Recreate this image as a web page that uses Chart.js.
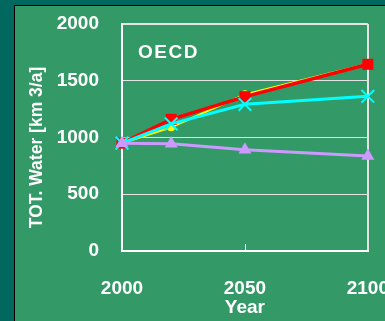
<!DOCTYPE html>
<html>
<head>
<meta charset="utf-8">
<script src="https://cdn.jsdelivr.net/npm/chart.js@4.4.1/dist/chart.umd.min.js"></script>
<style>
    html, body { margin: 0; padding: 0; width: 385px; height: 321px; overflow: hidden; background: #00685f; }
    .panel { position: absolute; left: 14px; top: 5px; width: 420px; height: 330px; background: #339966; border-left: 1px solid #000; border-top: 1px solid #000; }
    canvas { position: absolute; left: 0; top: 0; }
</style>
</head>
<body>
<div class="panel"><canvas id="waterChart" width="400" height="315"></canvas></div>
<script>
// values
const years = [2000, 2020, 2050, 2100];
const redSeries = [950, 1160, 1360, 1645];
const yellowSeries = [950, 1090, 1380, 1650];
const cyanSeries = [950, 1120, 1292, 1363];
const purpleSeries = [950, 944, 893, 837];
const xTicks = [2000, 2050, 2100];
const yTicks = [0, 500, 1000, 1500, 2000];

const FONT = "Arial, 'Liberation Sans', sans-serif";
const GRID = '#e4e4e4';

function toPoints(values) {
    return years.map((x, i) => ({ x: x, y: values[i] }));
}

// OECD label, y title and the small tick at 2050
const extras = {
    id: 'extras',
    beforeDatasetsDraw(chart) {
        const ctx = chart.ctx;
        const xs = chart.scales.x;
        const area = chart.chartArea;
        const x = Math.round(xs.getPixelForValue(xTicks[1])) + 0.5;
        ctx.save();
        ctx.strokeStyle = '#ffffff';
        ctx.lineWidth = 1;
        ctx.beginPath();
        ctx.moveTo(x, area.bottom);
        ctx.lineTo(x, area.bottom - 7);
        ctx.stroke();
        ctx.restore();
    },
    afterDraw(chart) {
        const ctx = chart.ctx;
        const area = chart.chartArea;
        ctx.save();
        ctx.fillStyle = '#ffffff';
        ctx.font = 'bold 19px ' + FONT;
        ctx.letterSpacing = '1.5px';
        ctx.textBaseline = 'alphabetic';
        ctx.textAlign = 'left';
        ctx.fillText('OECD', area.left + 16, area.top + 34);
        ctx.letterSpacing = '0px';

        ctx.font = 'bold 17.5px ' + FONT;
        ctx.textAlign = 'center';
        ctx.textBaseline = 'middle';
        ctx.translate(22, (area.top + area.bottom) / 2 + 10);
        ctx.rotate(-Math.PI / 2);
        ctx.fillText('TOT. Water [km 3/a]', 0, 0);
        ctx.restore();
    }
};

new Chart(document.getElementById('waterChart'), {
    type: 'line',
    data: {
        datasets: [
            {
                data: toPoints(purpleSeries),
                borderColor: '#cc99ff',
                backgroundColor: '#cc99ff',
                borderWidth: 3,
                pointStyle: 'triangle',
                pointRadius: 7.5,
                pointBorderWidth: 0,
                order: 0
            },
            {
                data: toPoints(cyanSeries),
                borderColor: '#00ffff',
                backgroundColor: '#00ffff',
                borderWidth: 3,
                pointStyle: 'crossRot',
                pointRadius: 9,
                pointBorderWidth: 2,
                order: 1
            },
            {
                data: toPoints(redSeries),
                borderColor: '#ff0000',
                backgroundColor: '#ff0000',
                borderWidth: 3.5,
                pointStyle: 'rect',
                pointRadius: 7.8,
                pointBorderWidth: 0,
                order: 2
            },
            {
                data: toPoints(yellowSeries),
                borderColor: '#ffff00',
                backgroundColor: '#ffff00',
                borderWidth: 2,
                pointStyle: 'circle',
                pointRadius: 4,
                pointBorderWidth: 0,
                order: 3
            }
        ]
    },
    options: {
        responsive: false,
        animation: false,
        clip: false,
        layout: { autoPadding: false, padding: { left: 0, top: 18, right: 46, bottom: 0 } },
        plugins: {
            legend: { display: false },
            tooltip: { enabled: false }
        },
        elements: { line: { tension: 0 } },
        scales: {
            x: {
                type: 'linear',
                min: xTicks[0],
                max: xTicks[xTicks.length - 1],
                afterBuildTicks: function(scale) {
                    scale.ticks = xTicks.map(v => ({ value: v }));
                },
                afterFit: function(scale) { scale.height = 70; },
                ticks: {
                    color: '#ffffff',
                    font: { family: FONT, size: 19, weight: 'bold' },
                    padding: 26,
                    maxRotation: 0,
                    callback: v => String(v)
                },
                grid: {
                    drawTicks: false,
                    color: c => (c.tick && c.tick.value === xTicks[xTicks.length - 1]) ? GRID : 'transparent',
                    lineWidth: 2
                },
                border: { display: true, color: '#ffffff', width: 2 },
                title: {
                    display: true,
                    text: 'Year',
                    color: '#ffffff',
                    font: { family: FONT, size: 19, weight: 'bold' },
                    padding: { top: 0, bottom: 2 }
                }
            },
            y: {
                min: yTicks[0],
                max: yTicks[yTicks.length - 1],
                afterBuildTicks: function(scale) {
                    scale.ticks = yTicks.map(v => ({ value: v }));
                },
                afterFit: function(scale) {
                    scale.width = 107;
                    scale.paddingTop = 0;
                    scale.paddingBottom = 0;
                },
                ticks: {
                    color: '#ffffff',
                    font: { family: FONT, size: 19, weight: 'bold' },
                    padding: 23,
                    callback: v => String(v)
                },
                grid: {
                    drawTicks: false,
                    color: c => (c.tick && c.tick.value === 0) ? 'transparent' : GRID,
                    lineWidth: c => (c.tick && c.tick.value === yTicks[yTicks.length - 1]) ? 2 : 1
                },
                border: { display: true, color: '#ffffff', width: 2 }
            }
        }
    },
    plugins: [extras]
});
</script>
</body>
</html>
